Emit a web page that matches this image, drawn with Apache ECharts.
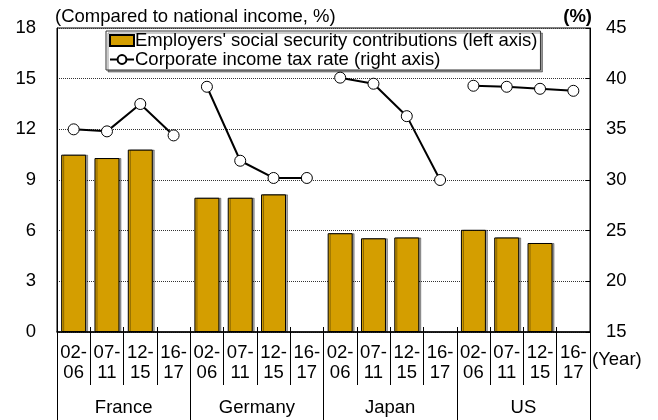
<!DOCTYPE html>
<html>
<head>
<meta charset="utf-8">
<script src="https://cdn.jsdelivr.net/npm/echarts@6/dist/echarts.min.js"></script>
<style>
  html, body { margin: 0; padding: 0; background: #fff; }
  #chart { width: 658px; height: 420px; }
</style>
</head>
<body>
<div id="chart"></div>
<script>
// 数据
const countries = ['France', 'Germany', 'Japan', 'US']
const periods = ['02-\n06', '07-\n11', '12-\n15', '16-\n17']
const sscFrance = [10.5, 10.3, 10.8, null]
const sscGermany = [7.95, 7.95, 8.15, null]
const sscJapan = [5.85, 5.55, 5.6, null]
const sscUS = [6.05, 5.6, 5.27, null]
const taxFrance = [35.0, 34.8, 37.5, 34.4]
const taxGermany = [39.2, 31.9, 30.2, 30.2]
const taxJapan = [40.1, 39.5, 36.3, 30.0]
const taxUS = [39.3, 39.2, 39.0, 38.8]
const leftTicks = [0, 18, 3]
const rightTicks = [15, 45, 5]

const barName = "Employers' social security contributions (left axis)"
const lineName = 'Corporate income tax rate (right axis)'
const font = 'Liberation Sans, Arial, sans-serif'
const fs = 18.5

let categories = []
countries.forEach(c => periods.forEach(p => categories.push(p)))
const sscData = [].concat(sscFrance, sscGermany, sscJapan, sscUS)
const taxByCountry = [taxFrance, taxGermany, taxJapan, taxUS]

// 每个国家一条折线，中间断开
let lineSeries = taxByCountry.map((arr, ci) => {
  let data = categories.map(() => '-')
  arr.forEach((v, i) => { data[ci * 4 + i] = v })
  return {
    name: lineName,
    type: 'line',
    xAxisIndex: 0,
    yAxisIndex: 1,
    data: data,
    symbol: 'circle',
    symbolSize: 11,
    z: 5,
    animation: false,
    lineStyle: { color: '#000', width: 2 },
    itemStyle: { color: '#fff', borderColor: '#000', borderWidth: 1 }
  }
})

let myChart = echarts.init(document.getElementById('chart'))
let option = {
  animation: false,
  textStyle: { fontFamily: font },
  title: [
    { text: '(Compared to national income, %)', left: 55, top: 7, padding: 0,
      textStyle: { fontSize: fs, fontWeight: 'normal', color: '#000', fontFamily: font } },
    { text: '(%)', right: 66, top: 7, padding: 0,
      textStyle: { fontSize: fs, fontWeight: 'bold', color: '#000', fontFamily: font } },
    { text: '(Year)', left: 592, top: 350, padding: 0,
      textStyle: { fontSize: fs, fontWeight: 'normal', color: '#000', fontFamily: font } }
  ],
  legend: {
    orient: 'vertical',
    left: 106,
    top: 31,
    padding: [0, 3, 1, 3],
    itemGap: 0,
    itemWidth: 24,
    itemHeight: 11,
    borderColor: '#333',
    borderWidth: 1,
    backgroundColor: '#fff',
    shadowColor: 'rgba(0,0,0,0.4)',
    shadowOffsetX: 2,
    shadowOffsetY: 2,
    textStyle: { fontSize: fs, color: '#000', fontFamily: font, padding: [0, 0, 0, -4] },
    data: [{ name: barName, icon: 'rect' }, { name: lineName }]
  },
  grid: {
    left: 57, right: 68, top: 28, bottom: 88,
    show: true, borderColor: '#000', borderWidth: 1, backgroundColor: 'transparent'
  },
  xAxis: [
    {
      type: 'category',
      data: categories,
      position: 'bottom',
      axisLine: { lineStyle: { color: '#000', width: 1.5 } },
      axisTick: { show: true, interval: 0, length: 53, lineStyle: { color: '#000' } },
      axisLabel: { interval: 0, margin: 11, fontSize: fs, lineHeight: 20, color: '#000', fontFamily: font }
    },
    {
      type: 'category',
      data: countries,
      position: 'bottom',
      axisLine: { show: false },
      axisTick: { show: true, interval: 0, length: 88, lineStyle: { color: '#000' } },
      axisLabel: { interval: 0, margin: 67, fontSize: fs, lineHeight: 18, color: '#000', fontFamily: font }
    },
    {
      type: 'category',
      data: categories,
      position: 'bottom',
      axisLine: { show: false },
      axisTick: { show: true, inside: true, interval: 0, length: 5, lineStyle: { color: '#000' } },
      axisLabel: { show: false }
    }
  ],
  yAxis: [
    {
      type: 'value',
      min: leftTicks[0], max: leftTicks[1], interval: leftTicks[2],
      axisLine: { show: true, lineStyle: { color: '#000' } },
      axisTick: { show: false },
      axisLabel: { margin: 21, fontSize: fs, color: '#000', fontFamily: font },
      splitLine: { show: true, lineStyle: { color: '#333', type: [1, 1], width: 1 } }
    },
    {
      type: 'value',
      min: rightTicks[0], max: rightTicks[1], interval: rightTicks[2],
      position: 'right',
      axisLine: { show: true, lineStyle: { color: '#000' } },
      axisTick: { show: true, inside: true, length: 4, lineStyle: { color: '#000' } },
      axisLabel: { margin: 16, fontSize: fs, color: '#000', fontFamily: font },
      splitLine: { show: false }
    }
  ],
  series: [
    {
      name: barName,
      type: 'bar',
      xAxisIndex: 0,
      yAxisIndex: 0,
      data: sscData,
      barWidth: '75%',
      animation: false,
      itemStyle: {
        color: '#D49E00',
        borderColor: '#000',
        borderWidth: 1,
        shadowColor: 'rgba(0,0,0,0.35)',
        shadowOffsetX: 2,
        shadowOffsetY: 0
      }
    }
  ].concat(lineSeries)
}
myChart.setOption(option)
</script>
</body>
</html>
